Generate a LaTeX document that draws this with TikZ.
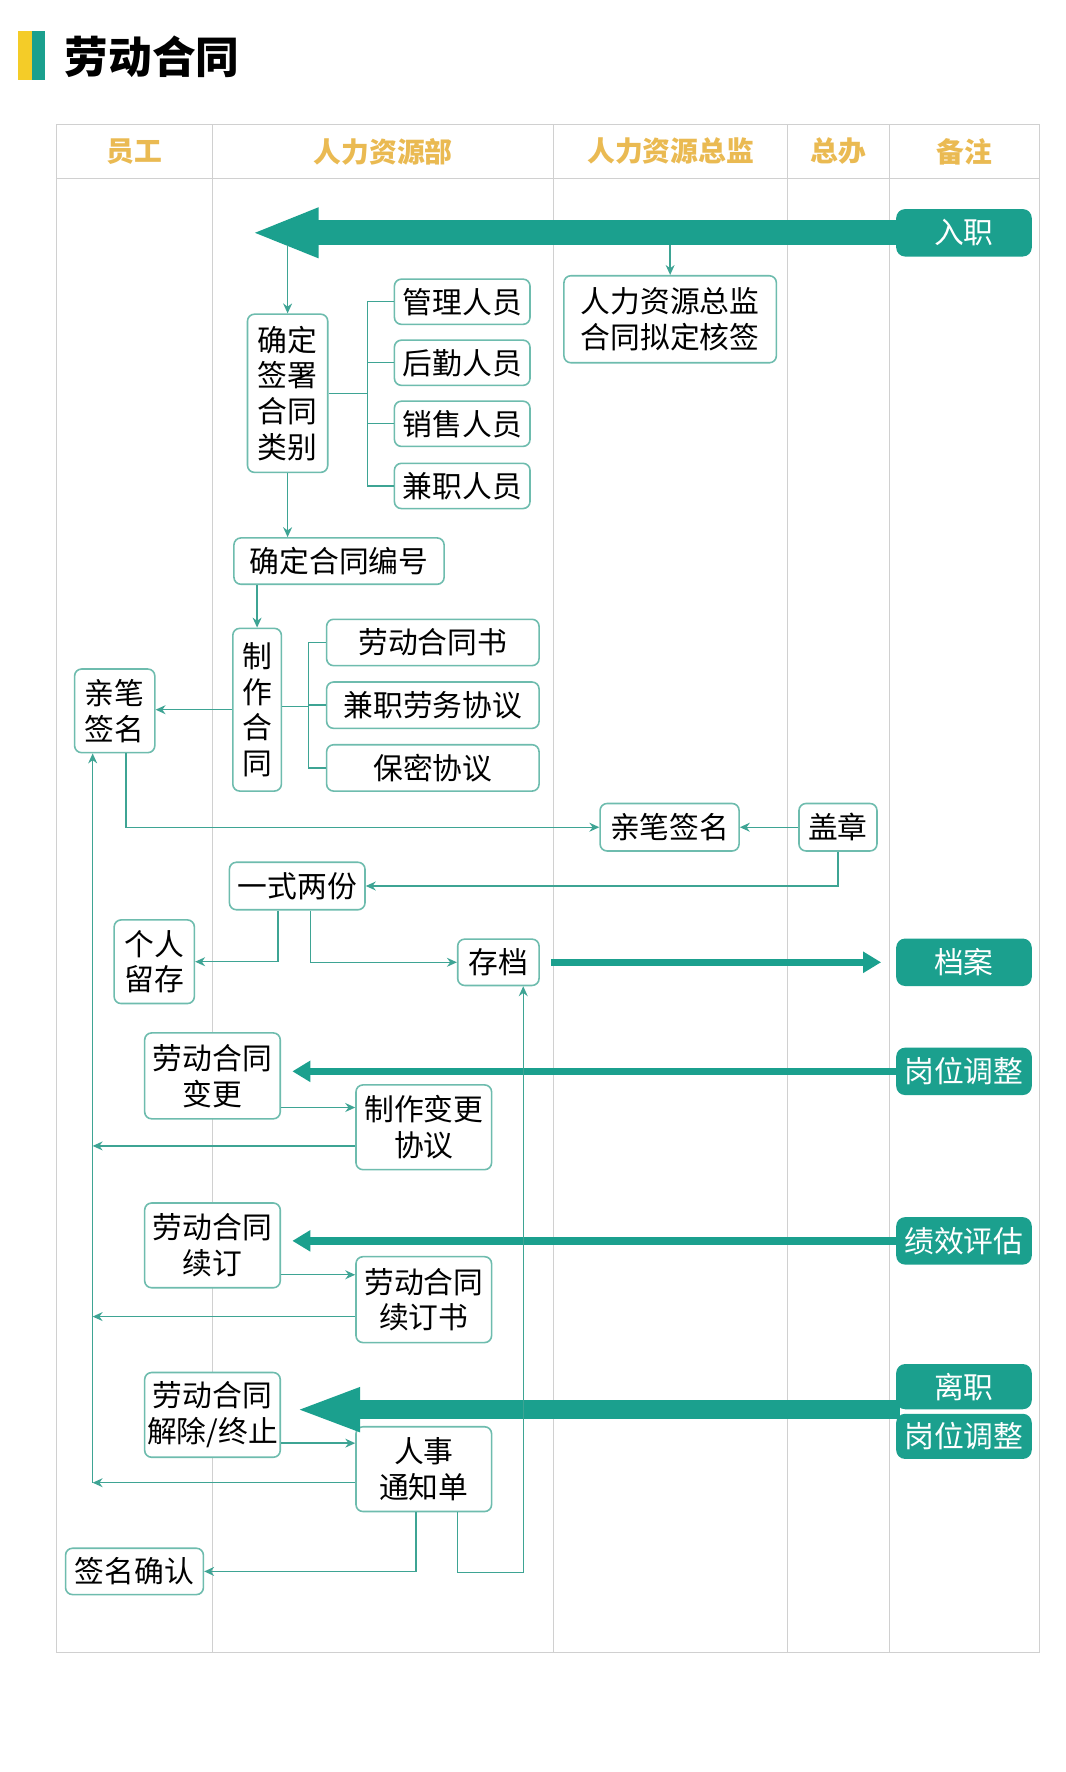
\documentclass[tikz,border=0pt]{standalone}
\usepackage{fontspec}
\setmainfont{Noto Sans CJK SC}
\usetikzlibrary{arrows.meta, calc, positioning}
\definecolor{mainteal}{RGB}{27,160,142}
\definecolor{boxline}{RGB}{110,188,174}
\definecolor{flowline}{RGB}{62,164,148}
\definecolor{gridgray}{RGB}{208,208,208}
\definecolor{headgold}{RGB}{234,186,82}
\definecolor{titleyellow}{RGB}{244,204,40}
\tikzset{
  box/.style={
    draw=boxline, line width=0.8pt, rounded corners=3.5pt, fill=white,
    inner sep=0pt, align=center, font=\fontsize{15pt}{18pt}\selectfont
  },
  tag/.style={
    fill=mainteal, rounded corners=4.5pt, text=white, inner sep=0pt,
    minimum width=2.4cm, minimum height=0.84cm, font=\fontsize{15pt}{18pt}\selectfont
  },
  lane/.style={draw=gridgray, line width=0.6pt},
  head/.style={text=headgold, font=\fontsize{14pt}{16pt}\selectfont\bfseries},
  link/.style={draw=flowline, line width=0.7pt},
  flow/.style={link, -{Stealth[length=5pt, width=4.5pt]}},
  fatflow/.style={draw=mainteal, line width=0.13cm, -{Triangle[length=0.32cm, width=0.36cm]}},
  bigflow/.style={draw=mainteal, line width=0.44cm, -{Triangle[length=1.2cm, width=0.8cm]}},
  bigflowb/.style={draw=mainteal, line width=0.34cm, -{Triangle[length=1.16cm, width=0.7cm]}},
}
\begin{document}
\begin{tikzpicture}[x=0.02cm, y=-0.02cm]
  \useasboundingbox[fill=white] (0,0) rectangle (943,1568);

  % title
  \fill[titleyellow] (16,27) rectangle (28,71);
  \fill[mainteal] (28,27) rectangle (40,71);
  \node[anchor=west, inner sep=0pt, font=\fontsize{22pt}{24pt}\selectfont\bfseries] (title) at (57,50) {劳动合同};

  % swimlanes
  \draw[lane] (50,110) rectangle (920,1462);
  \draw[lane] (50,158) -- (920,158);
  \foreach \x in {188,490,697,787} \draw[lane] (\x,110) -- (\x,1462);
  \node[head] (hyg) at (119,134) {员工};
  \node[head] (hrb) at (339,134) {人力资源部};
  \node[head] (hzj) at (593.5,134) {人力资源总监};
  \node[head] (hzb) at (742,134) {总办};
  \node[head] (hbz) at (853.5,134) {备注};

  % notes column
  \node[tag] (ruzhi) at (853,206) {入职};
  \node[tag] (dangan) at (853,851.5) {档案};
  \node[tag] (gangwei) at (853,948) {岗位调整};
  \node[tag] (jixiao) at (853,1098) {绩效评估};
  \node[tag, minimum height=0.8cm] (lizhi) at (853,1227) {离职};
  \node[tag, minimum height=0.8cm] (gangweib) at (853,1271) {岗位调整};

  % boxes
  \node[box, minimum width=1.42cm, minimum height=2.8cm] (queding) at (254.5,348) {确定\\签署\\合同\\类别};
  \node[box, minimum width=3.76cm, minimum height=1.54cm] (zongjian) at (593,282.5) {人力资源总监\\合同拟定核签};
  \node[box, minimum width=2.4cm, minimum height=0.8cm] (guanli) at (409,267) {管理人员};
  \node[box, minimum width=2.4cm, minimum height=0.8cm] (houqin) at (409,321) {后勤人员};
  \node[box, minimum width=2.4cm, minimum height=0.8cm] (xiaoshou) at (409,375) {销售人员};
  \node[box, minimum width=2.4cm, minimum height=0.8cm] (jianzhi) at (409,430) {兼职人员};
  \node[box, minimum width=3.72cm, minimum height=0.82cm] (bianhao) at (300,496.5) {确定合同编号};
  \node[box, minimum width=0.86cm, minimum height=2.88cm] (zhizuo) at (227.5,628) {制\\作\\合\\同};
  \node[box, minimum width=3.76cm, minimum height=0.82cm] (shu) at (383,568.5) {劳动合同书};
  \node[box, minimum width=3.76cm, minimum height=0.82cm] (laowu) at (383,624) {兼职劳务协议};
  \node[box, minimum width=3.76cm, minimum height=0.82cm] (baomi) at (383,679.5) {保密协议};
  \node[box, minimum width=1.42cm, minimum height=1.48cm] (qianming) at (101.5,629) {亲笔\\签名};
  \node[box, minimum width=2.46cm, minimum height=0.84cm] (qianmingb) at (592.5,732) {亲笔签名};
  \node[box, minimum width=1.38cm, minimum height=0.84cm] (gaizhang) at (741.5,732) {盖章};
  \node[box, minimum width=2.4cm, minimum height=0.84cm] (liangfen) at (263,784) {一式两份};
  \node[box, minimum width=1.42cm, minimum height=1.48cm] (liucun) at (136.5,851) {个人\\留存};
  \node[box, minimum width=1.44cm, minimum height=0.82cm] (cundang) at (441,851.5) {存档};
  \node[box, minimum width=2.4cm, minimum height=1.52cm] (biangeng) at (188,952) {劳动合同\\变更};
  \node[box, minimum width=2.4cm, minimum height=1.5cm] (xieyi) at (375,997.5) {制作变更\\协议};
  \node[box, minimum width=2.4cm, minimum height=1.5cm] (xuding) at (188,1102) {劳动合同\\续订};
  \node[box, minimum width=2.4cm, minimum height=1.52cm] (xudingshu) at (375,1150) {劳动合同\\续订书};
  \node[box, minimum width=2.4cm, minimum height=1.5cm] (jiechu) at (188,1252) {劳动合同\\解除/终止};
  \node[box, minimum width=2.4cm, minimum height=1.5cm] (tongzhi) at (375,1300) {人事\\通知单};
  \node[box, minimum width=2.44cm, minimum height=0.82cm] (queren) at (119,1390.5) {签名确认};

  % connectors
  \coordinate (entrytip) at (222,206);
  \coordinate (shaftbot) at (0,217);
  \coordinate (qj) at (325,348);
  \coordinate (zj) at (273,625);
  \coordinate (rail) at (82,1312);

  \draw[bigflow] (ruzhi.west) -- (entrytip);
  \draw[flow] (queding.north |- shaftbot) -- (queding.north);
  \draw[flow] (zongjian.north |- shaftbot) -- (zongjian.north);
  \draw[link] (queding.east) -- (qj);
  \foreach \n in {guanli,houqin,xiaoshou,jianzhi} \draw[link] (qj) |- (\n.west);
  \draw[flow] (queding.south) -- (queding.south |- bianhao.north);
  \draw[flow] (bianhao.south -| zhizuo.north) -- (zhizuo.north);
  \draw[link] (zhizuo.east |- zj) -- (zj);
  \foreach \n in {shu,laowu,baomi} \draw[link] (zj) |- (\n.west);
  \draw[flow] (zhizuo.west) -- (zhizuo.west -| qianming.east);
  \draw[flow] ($(qianming.south)+(10,0)$) |- (qianmingb.west);
  \draw[flow] (gaizhang.west) -- (qianmingb.east);
  \draw[flow] (gaizhang.south) |- (liangfen.east);
  \draw[flow] ($(liangfen.south)+(-17,0)$) |- (liucun.east);
  \draw[flow] ($(liangfen.south)+(12,0)$) |- (cundang.west);
  \draw[fatflow, shorten <=0.2cm, shorten >=0.26cm] (cundang.east) -- (dangan.west);

  \draw[flow] (rail) -- (rail |- qianming.south);
  \draw[fatflow, shorten >=0.2cm] (gangwei.west) -- (gangwei.west -| biangeng.east);
  \coordinate (ca) at ($(biangeng.east)+(0,28)$);
  \draw[flow] (ca) -- (ca -| xieyi.west);
  \coordinate (ba) at ($(xieyi.west)+(0,16.5)$);
  \draw[flow] (ba) -- (ba -| rail);

  \draw[fatflow, shorten >=0.2cm] (jixiao.west) -- (jixiao.west -| xuding.east);
  \coordinate (cb) at ($(xuding.east)+(0,26)$);
  \draw[flow] (cb) -- (cb -| xudingshu.west);
  \coordinate (bb) at ($(xudingshu.west)+(0,15)$);
  \draw[flow] (bb) -- (bb -| rail);

  \draw[bigflowb, shorten >=0.24cm] ($(lizhi.south west)+(4,0)$) -- (lizhi.south west -| jiechu.east);
  \coordinate (cc) at ($(jiechu.east)+(0,25)$);
  \draw[flow] (cc) -- (cc -| tongzhi.west);
  \draw[flow] (tongzhi.west |- rail) -- (rail);
  \draw[flow] ($(tongzhi.south)+(-7,0)$) |- (queren.east);
  \draw[flow] ($(tongzhi.south)+(30,0)$) -- ++(0,53) -| ($(cundang.south)+(22,0)$);
\end{tikzpicture}
\end{document}
